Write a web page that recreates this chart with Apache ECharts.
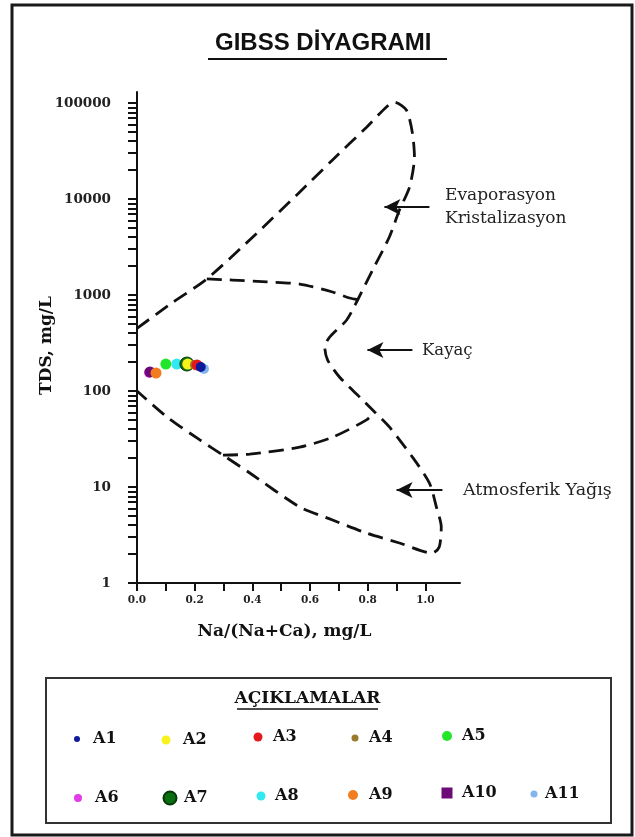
<!DOCTYPE html>
<html>
<head>
<meta charset="utf-8">
<script src="https://cdn.jsdelivr.net/npm/echarts@6/dist/echarts.min.js"></script>
<style>html,body{margin:0;padding:0;background:#fff}#chart{width:635px;height:837px}</style>
</head>
<body>
<div id="chart"></div>
<script>
// ---- data ----
const sampleNames = ['A1','A2','A3','A4','A5','A6','A7','A8','A9','A10','A11'];
const naRatio = [0.221,0.176,0.208,0.201,0.100,0.042,0.173,0.138,0.066,0.045,0.232];
const tdsValue = [178,191,187,187,191,155,191,191,154,158,170];

// Gibbs envelope (Na/(Na+Ca), TDS)
const outerRatio = [0,0.121,0.242,0.398,0.561,0.678,0.796,0.865,0.893,0.934,0.955,0.962,0.945,0.910,0.875,0.817,0.765,0.727,0.668,0.651,0.661,0.702,0.772,0.824,0.875,0.955,1.014,1.038,1.055,1.048,1.024,0.910,0.796,0.678,0.564,0.391,0.298,0.218,0.104,0];
const outerTds =   [450,826,1470,3930,11550,25500,56000,90800,102000,84500,48700,27400,13300,7680,4020,1820,887,549,365,287,210,140,86.6,60.4,42.2,20.5,11,6.2,3.83,2.37,2.05,2.61,3.31,4.53,6.2,14,21.5,30.9,53.7,100];
const upperRatio = [0.242,0.332,0.450,0.564,0.678,0.737,0.772];
const upperTds =   [1470,1430,1370,1300,1075,930,887];
const lowerRatio = [0.298,0.391,0.564,0.678,0.796,0.824];
const lowerTds =   [21.5,22,26,33,50,60.4];

// annotation arrows (tip / tail) and their texts
const arrowTipRatio = [0.858,0.799,0.900];
const arrowTailRatio = [1.014,0.955,1.059];
const arrowTds = [8260,267,9.3];

// tick labels
const xTickValues = [0,0.1,0.2,0.3,0.4,0.5,0.6,0.7,0.8,0.9,1.0];
const xLabelValues = [0,0.2,0.4,0.6,0.8,1.0];
const yLabelValues = [1,10,100,1000,10000,100000];
const yTickValues = [];
yLabelValues.slice(0,5).forEach(d => { for (let k = 1; k <= 9; k++) yTickValues.push(k*d); });
yTickValues.push(100000);

// ---- styles ----
const sampleColors = ['#0d1a9c','#f7f21c','#e3191c','#9a7b2c','#22e62a','#e23ce6','#0b6e10','#33e8f0','#f27d20','#6c0a78','#84b4ee'];
const plotSizes = [10,11,11,10,11,10,14,11,11,11,10];
const drawRank = [11,7,9,8,4,1,6,5,3,2,10];
const legendSlots = [
  {cx:77,cy:739,s:6,tx:93},{cx:166,cy:740,s:9,tx:183},{cx:258,cy:737,s:9,tx:273},{cx:355,cy:738,s:7,tx:369},{cx:447,cy:736,s:10,tx:462},
  {cx:78,cy:798,s:8,tx:95},{cx:169,cy:798,s:13,tx:183},{cx:261,cy:796,s:9,tx:275},{cx:353,cy:795,s:10,tx:369},{cx:447,cy:793,s:11,tx:462},{cx:534,cy:794,s:7,tx:545}
];
const SERIF = '"DejaVu Serif", serif';
const INK = '#111';
const dashStyle = {color:'#111', width:2.8, type:[15,8], cap:'butt'};

const zip = (a,b) => a.map((v,i) => [v,b[i]]);

const series = [
  {type:'line', name:'outer', data: zip(outerRatio,outerTds), showSymbol:false, smooth:0.25, silent:true, lineStyle:dashStyle, z:2,
   markLine:{silent:true, animation:false, symbol:['arrow','none'], symbolSize:[12,16],
     lineStyle:{type:'solid', color:INK, width:2}, label:{show:false},
     data: arrowTds.map((t,i) => [{coord:[arrowTipRatio[i],t]},{coord:[arrowTailRatio[i],t]}])}},
  {type:'line', name:'upper', data: zip(upperRatio,upperTds), showSymbol:false, smooth:0.25, silent:true, lineStyle:dashStyle, z:2},
  {type:'line', name:'lower', data: zip(lowerRatio,lowerTds), showSymbol:false, smooth:0.25, silent:true, lineStyle:dashStyle, z:2}
];
sampleNames.forEach((n,i) => {
  series.push({
    type:'scatter', name:n, data:[[naRatio[i], tdsValue[i]]],
    symbol:'circle', symbolSize: plotSizes[i], z: 3 + drawRank[i],
    itemStyle:{color: sampleColors[i], opacity:1, borderColor: i===6 ? '#053a08' : 'transparent', borderWidth: i===6 ? 1 : 0}
  });
});

const legends = sampleNames.map((n,i) => {
  const L = legendSlots[i];
  return {
    left: L.cx - L.s/2, top: L.cy - 10, padding:0, orient:'horizontal',
    itemWidth: L.s, itemHeight: L.s, selectedMode:false,
    data:[{name:n, icon: i===9 ? 'rect' : 'circle'}],
    textStyle:{fontFamily:SERIF, fontWeight:'bold', fontSize:16, color:INK, lineHeight:20, padding:[0,0,0, Math.max(0, L.tx - L.cx - L.s/2 - 5)]}
  };
});

const chart = echarts.init(document.getElementById('chart'), null, {renderer:'canvas'});
chart.setOption({
  animation:false,
  backgroundColor:'#fff',
  title:{text:'GIBSS DİYAGRAMI', left:215, top:31, padding:0,
    textStyle:{fontFamily:'"Liberation Sans", Arial, sans-serif', fontWeight:'bold', fontSize:24, color:INK}},
  grid:{left:137, right:175, top:92, bottom:254, containLabel:false, outerBoundsMode:'none'},
  xAxis:{type:'value', min:0, max:1.12,
    axisLine:{show:true, onZero:false, lineStyle:{color:INK, width:2}},
    axisTick:{show:true, inside:false, length:8, lineStyle:{color:INK, width:2}, customValues:xTickValues},
    axisLabel:{show:true, customValues:xLabelValues, formatter:v => Number(v).toFixed(1), margin:12,
      fontFamily:SERIF, fontWeight:'bold', fontSize:10.5, color:'#222'},
    splitLine:{show:false},
    name:'Na/(Na+Ca), mg/L', nameLocation:'middle', nameGap:40, nameMoveOverlap:false,
    nameTextStyle:{fontFamily:SERIF, fontWeight:'bold', fontSize:17, color:INK, padding:[0,28,0,0]}},
  yAxis:{type:'log', logBase:10, min:1, max:130200,
    axisLine:{show:true, lineStyle:{color:INK, width:2}},
    axisTick:{show:true, inside:false, length:9, lineStyle:{color:INK, width:2}, customValues:yTickValues},
    minorTick:{show:false},
    axisLabel:{show:true, customValues:yLabelValues, formatter:v => String(Math.round(v)), margin:26,
      fontFamily:SERIF, fontWeight:'bold', fontSize:13.5, color:'#222'},
    splitLine:{show:false},
    name:'TDS, mg/L', nameLocation:'middle', nameGap:82, nameMoveOverlap:false,
    nameTextStyle:{fontFamily:SERIF, fontWeight:'bold', fontSize:17, color:INK, padding:[0,16,0,0]}},
  legend: legends,
  graphic:[
    {type:'rect', shape:{x:12, y:5, width:620, height:830}, style:{fill:'none', stroke:'#1a1a1a', lineWidth:3}, silent:true, z:0},
    {type:'line', shape:{x1:208, y1:59, x2:447, y2:59}, style:{stroke:INK, lineWidth:2}, silent:true},
    {type:'rect', shape:{x:46, y:678, width:565, height:145}, style:{fill:'none', stroke:'#333', lineWidth:2}, silent:true, z:0},
    {type:'text', x:307.5, y:699, style:{text:'AÇIKLAMALAR', fontFamily:SERIF, fontWeight:'bold', fontSize:17, fill:INK, align:'center', verticalAlign:'middle'}, silent:true},
    {type:'line', shape:{x1:237, y1:709, x2:378, y2:709}, style:{stroke:INK, lineWidth:1.5}, silent:true},
    {type:'text', x:445, y:196, style:{text:'Evaporasyon', fontFamily:SERIF, fontSize:17, fill:'#222', align:'left', verticalAlign:'middle'}, silent:true},
    {type:'text', x:445, y:219, style:{text:'Kristalizasyon', fontFamily:SERIF, fontSize:17, fill:'#222', align:'left', verticalAlign:'middle'}, silent:true},
    {type:'text', x:422, y:351, style:{text:'Kayaç', fontFamily:SERIF, fontSize:16.5, fill:'#222', align:'left', verticalAlign:'middle'}, silent:true},
    {type:'text', x:463, y:490, style:{text:'Atmosferik Yağış', fontFamily:SERIF, fontSize:17.5, fill:'#222', align:'left', verticalAlign:'middle'}, silent:true}
  ],
  series: series
});
</script>
</body>
</html>
